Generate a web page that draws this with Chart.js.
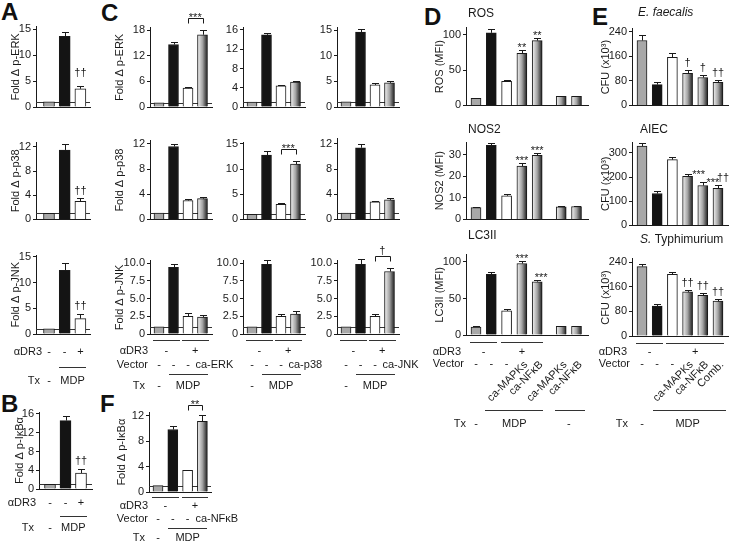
<!DOCTYPE html>
<html>
<head>
<meta charset="utf-8">
<script src="https://cdn.jsdelivr.net/npm/chart.js@4.4.1/dist/chart.umd.min.js"></script>
<style>
  body { margin: 0; background: #fff; }
  #fig { position: relative; width: 740px; height: 547px; overflow: hidden; background: #fff; }
  #fig canvas { position: absolute; }
  .tag { position: absolute; font: bold 24px 'Liberation Sans', Arial, sans-serif; line-height: 24px; color: #111; }
</style>
</head>
<body>
<div id="fig">
  <div class="tag" style="left:1px;top:0px">A</div>
  <div class="tag" style="left:101px;top:1px">C</div>
  <div class="tag" style="left:424px;top:5px">D</div>
  <div class="tag" style="left:592px;top:5px">E</div>
  <div class="tag" style="left:1px;top:392px">B</div>
  <div class="tag" style="left:100px;top:392px">F</div>
</div>
<script>
// ---------- data ----------
// A / B : untreated, MDP, MDP + aDR3  (fold change)
const aErk = [1.0, 13.6, 3.5],  aErkSd = [0, 0.8, 0.6];
const aP38 = [1.0, 11.5, 3.0],  aP38Sd = [0, 1.0, 0.6];
const aJnk = [1.0, 12.4, 3.0],  aJnkSd = [0, 1.5, 0.8];
const bIkb = [1.0, 14.6, 3.4],  bIkbSd = [0, 1.0, 0.8];

// C : readout (row) x constitutively active kinase (column)
const pErk_caErk = [1.0, 14.6, 4.4, 16.9], pErk_caErkSd = [0, 0.5, 0.3, 1.0];
const pErk_caP38 = [1.0, 15.0, 4.4, 5.2],  pErk_caP38Sd = [0, 0.4, 0.2, 0.2];
const pErk_caJnk = [1.0, 14.6, 4.3, 4.7],  pErk_caJnkSd = [0, 0.6, 0.3, 0.4];
const pP38_caErk = [1.0, 11.6, 3.0, 3.3],  pP38_caErkSd = [0, 0.4, 0.3, 0.2];
const pP38_caP38 = [1.0, 12.8, 3.0, 11.0], pP38_caP38Sd = [0, 0.8, 0.3, 0.6];
const pP38_caJnk = [1.0, 11.4, 2.8, 3.1],  pP38_caJnkSd = [0, 0.6, 0.2, 0.3];
const pJnk_caErk = [1.0, 9.4, 2.5, 2.4],   pJnk_caErkSd = [0, 0.5, 0.4, 0.3];
const pJnk_caP38 = [1.0, 9.8, 2.5, 2.8],   pJnk_caP38Sd = [0, 0.6, 0.3, 0.4];
const pJnk_caJnk = [1.0, 9.8, 2.5, 8.8],   pJnk_caJnkSd = [0, 0.8, 0.3, 0.5];

// F
const fIkb = [1.0, 9.8, 3.4, 11.1], fIkbSd = [0, 0.5, 0.1, 1.0];

// D : MFI
const dRos  = [10, 103, 34, 74, 92, 13, 13],          dRosSd  = [1, 6, 2, 5, 4, 1, 1];
const dNos2 = [5.5, 34.5, 11, 24.8, 29.8, 5.8, 6.0],  dNos2Sd = [0.4, 1.2, 1.0, 1.5, 1.3, 0.3, 0.3];
const dLc3  = [11, 83, 33, 98, 73, 12, 12],           dLc3Sd  = [1, 3, 2, 4, 3, 1, 1];

// E : CFU (x10^3)
const eFaec = [212, 68, 157, 105, 91, 75],   eFaecSd = [18, 8, 14, 10, 9, 8];
const eAiec = [328, 132, 272, 203, 165, 153], eAiecSd = [14, 12, 12, 11, 13, 14];
const eTyph = [225, 97, 200, 143, 132, 113],  eTyphSd = [8, 6, 7, 7, 7, 7];

// bar fill kinds: gray, black, white, shaded
const A_KINDS = ['g', 'k', 'w'];
const C_KINDS = ['g', 'k', 'w', 'r'];
const D_KINDS = ['g', 'k', 'w', 'r', 'r', 'r', 'r'];
const E_KINDS = ['g', 'k', 'w', 'r', 'r', 'r'];

// ---------- drawing helpers ----------
const FONT = "'Liberation Sans', Arial, Helvetica, sans-serif";
const INK = '#1a1a1a';
Chart.defaults.font.family = FONT;
Chart.defaults.font.size = 11;
Chart.defaults.color = INK;
const fig = document.getElementById('fig');

function fillFor(c, kind) {
  if (kind === 'g') return '#a8a8a8';
  if (kind === 'k') return '#141414';
  if (kind === 'w') return '#ffffff';
  const xs = c.chart.scales.x;
  if (!xs || !c.raw) return '#8c8c8c';
  const x = xs.getPixelForValue(c.raw.x);
  const g = c.chart.ctx.createLinearGradient(x - 5, 0, x + 5, 0);
  g.addColorStop(0, '#f4f4f4');
  g.addColorStop(0.5, '#a4a4a4');
  g.addColorStop(1, '#1c1c1c');
  return g;
}

function txt(ctx, s, x, y, align, font) {
  ctx.font = font || ('11px ' + FONT);
  ctx.textAlign = align || 'center';
  ctx.textBaseline = 'middle';
  ctx.fillStyle = INK;
  ctx.fillText(s, x, y);
}
function mark(ctx, s, x, yBase) {
  ctx.font = '11px ' + FONT;
  ctx.textAlign = 'center';
  ctx.textBaseline = 'alphabetic';
  ctx.fillStyle = INK;
  ctx.fillText(s, x, yBase);
}
function rule(ctx, xa, xb, y) {
  ctx.strokeStyle = '#333';
  ctx.lineWidth = 1;
  ctx.beginPath();
  ctx.moveTo(Math.round(xa), Math.round(y) + 0.5);
  ctx.lineTo(Math.round(xb), Math.round(y) + 0.5);
  ctx.stroke();
}
function bracket(ctx, xa, xb, y, s) {
  const yy = Math.round(y) + 0.5;
  ctx.strokeStyle = INK;
  ctx.lineWidth = 1;
  ctx.beginPath();
  ctx.moveTo(Math.round(xa) + 0.5, yy + 5);
  ctx.lineTo(Math.round(xa) + 0.5, yy);
  ctx.lineTo(Math.round(xb) + 0.5, yy);
  ctx.lineTo(Math.round(xb) + 0.5, yy + 5);
  ctx.stroke();
  mark(ctx, s, (xa + xb) / 2, s[0] === '*' ? y + 3 : y - 2);
}
function slanted(ctx, s, x, y) {
  ctx.save();
  ctx.translate(x, y);
  ctx.rotate(-Math.PI / 4);
  txt(ctx, s, 0, 0, 'right');
  ctx.restore();
}

// rows under A / B
function rowsAB(ctx, px, labR, ys) {
  txt(ctx, 'αDR3', labR, ys[0], 'right');
  txt(ctx, '-', px(0), ys[0]); txt(ctx, '-', px(1), ys[0]); txt(ctx, '+', px(2), ys[0]);
  rule(ctx, px(1) - 6, px(2) + 6, ys[1]);
  txt(ctx, 'Tx', labR - 2, ys[2], 'right');
  txt(ctx, '-', px(0), ys[2]); txt(ctx, 'MDP', (px(1) + px(2)) / 2, ys[2]);
}
// rows under C / F
function rowsC(ctx, px, name, labR, ys) {
  rule(ctx, px(0) - 6, px(1) + 6, ys[0]);
  rule(ctx, px(2) - 6, px(3) + 6, ys[0]);
  if (labR) {
    txt(ctx, 'αDR3', labR, ys[1], 'right');
    txt(ctx, 'Vector', labR, ys[2], 'right');
    txt(ctx, 'Tx', labR - 3, ys[4], 'right');
  }
  txt(ctx, '-', (px(0) + px(1)) / 2, ys[1]); txt(ctx, '+', (px(2) + px(3)) / 2, ys[1]);
  txt(ctx, '-', px(0), ys[2]); txt(ctx, '-', px(1), ys[2]); txt(ctx, '-', px(2), ys[2]);
  txt(ctx, name, px(3) - 7, ys[2], 'left');
  rule(ctx, px(1) - 5, px(3) + 5, ys[3]);
  txt(ctx, '-', px(0), ys[4]); txt(ctx, 'MDP', (px(1) + px(3)) / 2, ys[4]);
}

function panel(p) {
  const cv = document.createElement('canvas');
  const w = p.cr - p.cl, h = p.cb - p.ct;
  cv.width = w; cv.height = h;
  cv.style.left = p.cl + 'px'; cv.style.top = p.ct + 'px';
  cv.style.width = w + 'px'; cv.style.height = h + 'px';
  fig.appendChild(cv);

  const axisTop = p.y0 - (p.y0 - p.yT) * p.max / p.tT;
  const xOf = i => i + (p.gapAt !== undefined && i >= p.gapAt ? p.gap : 0);

  const decor = {
    id: 'decor',
    beforeDatasetsDraw(chart) {
      if (!p.ref) return;
      const ctx = chart.ctx, a = chart.chartArea;
      const y = Math.round(chart.scales.y.getPixelForValue(1)) + 0.5;
      ctx.save();
      ctx.strokeStyle = '#333'; ctx.lineWidth = 1;
      ctx.beginPath(); ctx.moveTo(a.left, y); ctx.lineTo(a.right, y); ctx.stroke();
      ctx.restore();
    },
    afterDatasetsDraw(chart) {
      const ctx = chart.ctx, ys = chart.scales.y;
      const bars = chart.getDatasetMeta(0).data;
      ctx.save();
      ctx.strokeStyle = INK; ctx.lineWidth = 1;
      bars.forEach((bar, i) => {
        if (!p.sd[i]) return;
        const x = Math.round(bar.x) + 0.5;
        const yb = ys.getPixelForValue(p.vals[i]);
        const yt = Math.round(ys.getPixelForValue(p.vals[i] + p.sd[i])) + 0.5;
        ctx.beginPath();
        ctx.moveTo(x, yb); ctx.lineTo(x, yt);
        ctx.moveTo(x - 3.5, yt); ctx.lineTo(x + 3.5, yt);
        ctx.stroke();
      });
      ctx.restore();
    },
    afterDraw(chart) {
      if (!p.draw) return;
      const ctx = chart.ctx, ys = chart.scales.y;
      const bars = chart.getDatasetMeta(0).data;
      const px = i => bars[i].x + p.cl;
      const py = v => ys.getPixelForValue(v) + p.ct;
      const top = i => py(p.vals[i] + p.sd[i]);
      ctx.save();
      ctx.translate(-p.cl, -p.ct);
      p.draw(ctx, px, py, top);
      ctx.restore();
    }
  };

  new Chart(cv, {
    type: 'bar',
    data: {
      datasets: [{
        data: p.vals.map((v, i) => ({ x: xOf(i), y: v })),
        backgroundColor: c => fillFor(c, p.kinds[c.dataIndex]),
        borderColor: INK,
        borderWidth: 1,
        barThickness: p.bw || 10
      }]
    },
    options: {
      responsive: false,
      animation: false,
      devicePixelRatio: 1,
      events: [],
      layout: { padding: { left: 0, top: axisTop - p.ct, right: p.cr - p.x1, bottom: p.cb - p.y0 } },
      plugins: { legend: { display: false }, tooltip: { enabled: false } },
      scales: {
        x: {
          type: 'linear',
          offset: false,
          min: -(p.c0 - p.x0) / p.s,
          max: (p.x1 - p.c0) / p.s,
          ticks: { display: false },
          grid: { display: false },
          border: { color: INK },
          afterFit: s => { s.height = 0; }
        },
        y: {
          min: 0,
          max: p.max,
          ticks: {
            stepSize: p.step,
            includeBounds: false,
            padding: 2,
            color: INK,
            font: { size: 11 },
            callback: p.fmt || (v => v)
          },
          grid: { drawOnChartArea: false, drawTicks: true, tickLength: 3, color: INK },
          border: { color: INK },
          title: {
            display: !!p.ytitle,
            text: p.ytitle || '',
            color: INK,
            font: { size: 11 },
            padding: { top: p.labX ? p.labX - p.cl - 6.6 : 0, bottom: 0 }
          },
          afterFit: s => { s.width = p.x0 - p.cl; }
        }
      }
    },
    plugins: [decor]
  });
}

const oneDec = v => (v === 0 ? '0' : v.toFixed(1));

// ---------- A ----------
const aCommon = { kinds: A_KINDS, ref: true, bw: 11, x0: 36, c0: 49, s: 15.7, x1: 90, labX: 16, cl: 4, cr: 100 };
panel({ ...aCommon, vals: aErk, sd: aErkSd, y0: 107, yT: 29, tT: 15, max: 15.4, step: 5,
  ytitle: 'Fold Δ p-ERK', ct: 14, cb: 116,
  draw: (ctx, px, py, top) => mark(ctx, '††', px(2), top(2) - 10) });
panel({ ...aCommon, vals: aP38, sd: aP38Sd, y0: 220, yT: 147, tT: 12, max: 12.8, step: 4,
  ytitle: 'Fold Δ p-p38', ct: 128, cb: 228,
  draw: (ctx, px, py, top) => mark(ctx, '††', px(2), top(2) - 4) });
panel({ ...aCommon, vals: aJnk, sd: aJnkSd, y0: 334, yT: 257, tT: 15, max: 15.3, step: 5,
  ytitle: 'Fold Δ p-JNK', ct: 244, cb: 392,
  draw: (ctx, px, py, top) => {
    mark(ctx, '††', px(2), top(2) - 5);
    rowsAB(ctx, px, 42, [352, 367, 381]);
  } });

// ---------- B ----------
panel({ kinds: A_KINDS, ref: true, bw: 11, x0: 39, c0: 50, s: 15.5, x1: 92, labX: 20, cl: 4, cr: 100,
  vals: bIkb, sd: bIkbSd, y0: 489, yT: 414, tT: 16, max: 16.4, step: 4,
  ytitle: 'Fold Δ p-IκBα', ct: 392, cb: 545,
  draw: (ctx, px, py, top) => {
    mark(ctx, '††', px(2), top(2) - 5);
    rowsAB(ctx, px, 36, [503, 516, 528]);
  } });

// ---------- C ----------
const cCols = [
  { x0: 150, cl: 110, cr: 245, name: 'ca-ERK', lab: true },
  { x0: 243, cl: 212, cr: 332, name: 'ca-p38', lab: false },
  { x0: 337, cl: 305, cr: 430, name: 'ca-JNK', lab: false }
];
const cErkRow = [pErk_caErk, pErk_caP38, pErk_caJnk], cErkRowSd = [pErk_caErkSd, pErk_caP38Sd, pErk_caJnkSd];
const cP38Row = [pP38_caErk, pP38_caP38, pP38_caJnk], cP38RowSd = [pP38_caErkSd, pP38_caP38Sd, pP38_caJnkSd];
const cJnkRow = [pJnk_caErk, pJnk_caP38, pJnk_caJnk], cJnkRowSd = [pJnk_caErkSd, pJnk_caP38Sd, pJnk_caJnkSd];
const cErkMax = [[18, 18.5, 6], [16, 16.5, 4], [15, 15.5, 5]];
const cP38Max = [[12, 12.5, 4], [15, 15.3, 5], [12, 12.8, 4]];

cCols.forEach((col, k) => {
  const base = { kinds: C_KINDS, ref: true, x0: col.x0, c0: col.x0 + 9, s: 14.5, x1: col.x0 + 62,
    labX: col.lab ? 120 : 0, cl: col.cl, cr: col.cr };
  panel({ ...base, vals: cErkRow[k], sd: cErkRowSd[k], y0: 107, yT: 30, tT: cErkMax[k][0],
    max: cErkMax[k][1], step: cErkMax[k][2], ytitle: col.lab ? 'Fold Δ p-ERK' : '', ct: 4, cb: 116,
    draw: k === 0 ? (ctx, px, py, top) => bracket(ctx, px(2), px(3), top(3) - 12, '***') : null });
  panel({ ...base, vals: cP38Row[k], sd: cP38RowSd[k], y0: 220, yT: 144, tT: cP38Max[k][0],
    max: cP38Max[k][1], step: cP38Max[k][2], ytitle: col.lab ? 'Fold Δ p-p38' : '', ct: 126, cb: 228,
    draw: k === 1 ? (ctx, px, py, top) => bracket(ctx, px(2), px(3), top(3) - 12, '***') : null });
  panel({ ...base, vals: cJnkRow[k], sd: cJnkRowSd[k], y0: 334, yT: 263, tT: 10,
    max: 10.3, step: 2.5, fmt: oneDec, ytitle: col.lab ? 'Fold Δ p-JNK' : '', ct: 236, cb: 395,
    draw: (ctx, px, py, top) => {
      if (k === 2) bracket(ctx, px(2), px(3), top(3) - 12, '†');
      rowsC(ctx, px, col.name, col.lab ? 148 : 0, [340, 351, 365, 374, 386]);
    } });
});

// ---------- F ----------
panel({ kinds: C_KINDS, ref: true, x0: 149, c0: 158, s: 14.8, x1: 211, labX: 122, cl: 110, cr: 246,
  vals: fIkb, sd: fIkbSd, y0: 492, yT: 415.5, tT: 12, max: 12.5, step: 4,
  ytitle: 'Fold Δ p-IκBα', ct: 392, cb: 547,
  draw: (ctx, px, py, top) => {
    bracket(ctx, px(2), px(3), top(3) - 10, '**');
    rowsC(ctx, px, 'ca-NFκB', 148, [497, 506, 519, 528, 538]);
  } });

// ---------- D ----------
const dCommon = { kinds: D_KINDS, x0: 466, c0: 476, s: 15.3, x1: 588, gapAt: 5, gap: 0.57,
  labX: 440, cl: 418, cr: 594 };
panel({ ...dCommon, vals: dRos, sd: dRosSd, y0: 106, yT: 35, tT: 100, max: 110, step: 50,
  ytitle: 'ROS (MFI)', ct: 2, cb: 114,
  draw: (ctx, px, py, top) => {
    txt(ctx, 'ROS', 468, 14, 'left', '12px ' + FONT);
    mark(ctx, '**', px(3), top(3) + 1); mark(ctx, '**', px(4), top(4) + 1);
  } });
panel({ ...dCommon, vals: dNos2, sd: dNos2Sd, y0: 220, yT: 155, tT: 30, max: 36, step: 10,
  ytitle: 'NOS2 (MFI)', ct: 118, cb: 228,
  draw: (ctx, px, py, top) => {
    txt(ctx, 'NOS2', 468, 130, 'left', '12px ' + FONT);
    mark(ctx, '***', px(3), top(3) + 1); mark(ctx, '***', px(4), top(4) + 1);
  } });
panel({ ...dCommon, vals: dLc3, sd: dLc3Sd, y0: 335, yT: 262, tT: 100, max: 110, step: 50,
  ytitle: 'LC3II (MFI)', ct: 226, cb: 436,
  draw: (ctx, px, py, top) => {
    txt(ctx, 'LC3II', 468, 236, 'left', '12px ' + FONT);
    mark(ctx, '***', px(3), top(3) + 1); mark(ctx, '***', px(4) + 4, top(4) + 1);
    rule(ctx, px(0) - 6, px(1) + 6, 342);
    rule(ctx, px(2) - 6, px(4) + 6, 342);
    txt(ctx, 'αDR3', 461, 352, 'right');
    txt(ctx, '-', (px(0) + px(1)) / 2, 352); txt(ctx, '+', px(3), 352);
    txt(ctx, 'Vector', 464, 364, 'right');
    txt(ctx, '-', px(0), 364); txt(ctx, '-', px(1), 364); txt(ctx, '-', px(2), 364);
    slanted(ctx, 'ca-MAPKs', px(3) + 4, 363);
    slanted(ctx, 'ca-NFκB', px(4) + 4, 363);
    slanted(ctx, 'ca-MAPKs', px(5) + 4, 363);
    slanted(ctx, 'ca-NFκB', px(6) + 4, 363);
    rule(ctx, px(1) - 6, px(4) + 6, 410);
    rule(ctx, px(5) - 6, px(6) + 8, 410);
    txt(ctx, 'Tx', 466, 424, 'right');
    txt(ctx, '-', px(0), 424); txt(ctx, 'MDP', (px(1) + px(4)) / 2, 424);
    txt(ctx, '-', (px(5) + px(6)) / 2, 424);
  } });

// ---------- E ----------
const eCommon = { kinds: E_KINDS, x0: 632, c0: 642, s: 15.2, x1: 728, labX: 606, cl: 596, cr: 740 };
const ital = 'italic 12px ' + FONT;
panel({ ...eCommon, vals: eFaec, sd: eFaecSd, y0: 107, yT: 32, tT: 240, max: 250, step: 80,
  ytitle: 'CFU (x10³)', ct: 2, cb: 114,
  draw: (ctx, px, py, top) => {
    txt(ctx, 'E. faecalis', 638, 13, 'left', ital);
    mark(ctx, '†', px(3), top(3) - 4); mark(ctx, '†', px(4), top(4) - 4); mark(ctx, '††', px(5), top(5) - 4);
  } });
panel({ ...eCommon, vals: eAiec, sd: eAiecSd, y0: 226, yT: 153, tT: 300, max: 345, step: 100,
  ytitle: 'CFU (x10³)', ct: 118, cb: 234,
  draw: (ctx, px, py, top) => {
    txt(ctx, 'AIEC', 640, 130, 'left', '12px ' + FONT);
    mark(ctx, '***', px(3) + 11, top(3) + 4); mark(ctx, '***', px(4) + 10, top(4) + 4);
    mark(ctx, '††', px(5) + 5, top(5) - 4);
  } });
panel({ ...eCommon, vals: eTyph, sd: eTyphSd, y0: 336, yT: 262, tT: 240, max: 250, step: 80,
  ytitle: 'CFU (x10³)', ct: 230, cb: 436,
  draw: (ctx, px, py, top) => {
    ctx.font = ital; const sw = ctx.measureText('S. ').width;
    txt(ctx, 'S. ', 640, 240, 'left', ital);
    txt(ctx, 'Typhimurium', 640 + sw, 240, 'left', '12px ' + FONT);
    mark(ctx, '††', px(3), top(3) - 4); mark(ctx, '††', px(4), top(4) - 4); mark(ctx, '††', px(5), top(5) - 4);
    rule(ctx, px(0) - 6, px(1) + 6, 343);
    rule(ctx, px(2) - 6, px(5) + 6, 343);
    txt(ctx, 'αDR3', 627, 352, 'right');
    txt(ctx, '-', (px(0) + px(1)) / 2, 352); txt(ctx, '+', (px(2) + px(5)) / 2, 352);
    txt(ctx, 'Vector', 630, 364, 'right');
    txt(ctx, '-', px(0), 364); txt(ctx, '-', px(1), 364); txt(ctx, '-', px(2), 364);
    slanted(ctx, 'ca-MAPKs', px(3) + 4, 363);
    slanted(ctx, 'ca-NFκB', px(4) + 4, 363);
    slanted(ctx, 'Comb.', px(5) + 4, 363);
    rule(ctx, px(1) - 4, px(5) + 8, 410);
    txt(ctx, 'Tx', 628, 424, 'right');
    txt(ctx, '-', px(0), 424); txt(ctx, 'MDP', (px(1) + px(5)) / 2, 424);
  } });
</script>
</body>
</html>
